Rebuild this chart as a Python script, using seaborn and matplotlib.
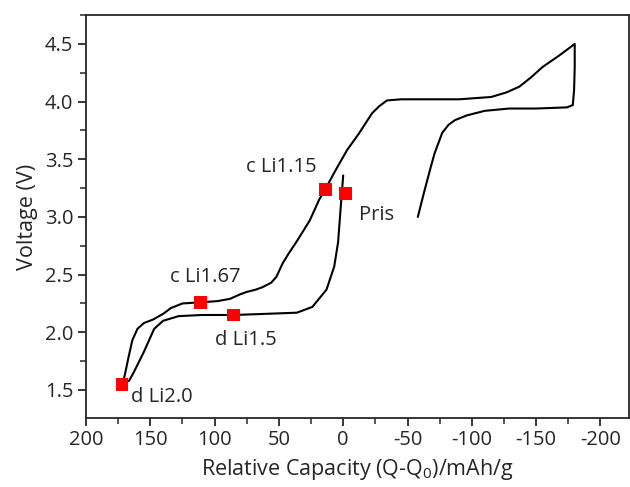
import matplotlib
matplotlib.use("Agg")
import matplotlib.pyplot as plt
from matplotlib.ticker import MultipleLocator
import seaborn as sns
import pandas as pd

# Voltage profile (relative capacity in mAh/g, voltage in V), in measurement order
capacity = [0, 1.5, 4, 7, 13, 24, 36, 60, 85, 110, 128, 140, 147, 151, 155, 159, 163, 166.5, 172,
            170, 167, 164, 160, 155, 148, 140, 134, 125, 111, 98, 88, 80, 75, 68, 63, 56, 52, 47, 42,
            36.6, 31, 26, 18.7, 14, 5.7, -3, -12, -22.5, -28, -34, -45, -90, -115, -127, -137, -146,
            -155, -168, -180, -180, -179.5, -178.5, -174, -150, -129, -110, -96, -87, -82, -77, -75,
            -71, -68, -63, -58]
voltage = [3.36, 3.15, 2.78, 2.57, 2.37, 2.22, 2.17, 2.16, 2.15, 2.15, 2.14, 2.10, 2.03, 1.93, 1.83,
           1.74, 1.65, 1.58, 1.55,
           1.62, 1.78, 1.93, 2.03, 2.08, 2.11, 2.16, 2.21, 2.25, 2.26, 2.27, 2.29, 2.33, 2.35, 2.37,
           2.39, 2.43, 2.48, 2.60, 2.69, 2.78, 2.88, 2.97, 3.15, 3.24, 3.41, 3.58, 3.72, 3.90, 3.96,
           4.01, 4.02, 4.02, 4.04, 4.08, 4.13, 4.21, 4.30, 4.40, 4.50, 4.30, 4.10, 3.97, 3.95, 3.94,
           3.94, 3.92, 3.88, 3.84, 3.80, 3.73, 3.67, 3.55, 3.43, 3.22, 3.00]

# Marked states
point_labels = ["Pris", "c Li1.15", "c Li1.67", "d Li1.5", "d Li2.0"]
point_capacity = [-1.5, 14, 111, 85, 172]
point_voltage = [3.20, 3.24, 2.26, 2.15, 1.55]

x_ticks = [200, 150, 100, 50, 0, -50, -100, -150, -200]
y_ticks = [1.5, 2.0, 2.5, 3.0, 3.5, 4.0, 4.5]

sns.set_style("ticks")
plt.rcParams["font.family"] = ["Open Sans", "DejaVu Sans"]

fig = plt.figure(figsize=(6.3, 4.87), dpi=100)
ax = fig.add_axes([0.1365, 0.1417, 0.8615, 0.8273])

curve = pd.DataFrame({"cap": capacity, "v": voltage})
sns.lineplot(data=curve, x="cap", y="v", sort=False, estimator=None, color="black",
             linewidth=1.5, ax=ax)

pts = pd.DataFrame({"cap": point_capacity, "v": point_voltage, "label": point_labels})
sns.scatterplot(data=pts, x="cap", y="v", marker="s", s=85, color="#ff0000",
                edgecolor="none", ax=ax, zorder=5)

# label placement: left edge of each label, in data coordinates
label_pos = {"Pris": (-12.4, 3.02), "c Li1.15": (75.4, 3.43), "c Li1.67": (135, 2.48),
             "d Li1.5": (100, 1.93), "d Li2.0": (165, 1.44)}
for lab in point_labels:
    tx, ty = label_pos[lab]
    ax.text(tx, ty, lab, ha="left", va="center", fontsize=14.5)

ax.set_xlim(200, -222)
ax.set_ylim(1.257, 4.75)
ax.set_xticks(x_ticks)
ax.set_xticklabels([str(t) for t in x_ticks])
ax.set_yticks(y_ticks)
ax.set_yticklabels([f"{t:.1f}" for t in y_ticks])
ax.xaxis.set_minor_locator(MultipleLocator(25))
ax.yaxis.set_minor_locator(MultipleLocator(0.25))
ax.tick_params(which="major", direction="out", length=6, width=1.3, labelsize=14.5, pad=3)
ax.tick_params(which="minor", direction="out", length=4, width=1.1)
for s in ax.spines.values():
    s.set_linewidth(1.3)
    s.set_visible(True)

ax.set_xlabel("Relative Capacity (Q-Q$_\\mathregular{0}$)/mAh/g", fontsize=15.5, labelpad=5)
ax.set_ylabel("Voltage (V)", fontsize=15.5, labelpad=5)

fig.savefig("out.png", dpi=100)
